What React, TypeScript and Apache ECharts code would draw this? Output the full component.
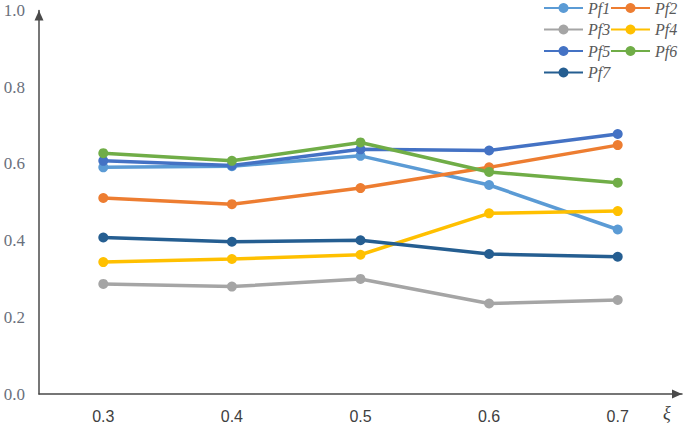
import React, { useEffect, useRef } from "react";
import * as echarts from "echarts";

const categories = ["0.3", "0.4", "0.5", "0.6", "0.7"];
const seriesNames = ["Pf1", "Pf2", "Pf3", "Pf4", "Pf5", "Pf6", "Pf7"];
const pf1 = [0.591, 0.594, 0.621, 0.545, 0.429];
const pf2 = [0.511, 0.495, 0.537, 0.591, 0.649];
const pf3 = [0.287, 0.28, 0.3, 0.236, 0.245];
const pf4 = [0.344, 0.352, 0.363, 0.471, 0.477];
const pf5 = [0.608, 0.596, 0.638, 0.635, 0.678];
const pf6 = [0.628, 0.608, 0.656, 0.579, 0.551];
const pf7 = [0.408, 0.397, 0.401, 0.365, 0.358];
const colors = ["#5B9BD5", "#ED7D31", "#A5A5A5", "#FFC000", "#4472C4", "#70AD47", "#255E91"];

const allData = [pf1, pf2, pf3, pf4, pf5, pf6, pf7];
const SERIF = "'Liberation Serif', 'Times New Roman', serif";

export default function App() {
  const ref = useRef<HTMLDivElement>(null);
  useEffect(() => {
    if (!ref.current) return;
    const chart = echarts.init(ref.current, null, { renderer: "svg" });
    const legendCols = [543, 610];
    const legendRows = [8, 29.5, 51, 72.5];
    const legends = seriesNames.map((name, i) => ({
      data: [name],
      left: legendCols[i % 2],
      top: legendRows[Math.floor(i / 2)] - 8,
      padding: 0,
      itemWidth: 39,
      itemHeight: 12.5,
      itemGap: 0,
      textStyle: {
        fontFamily: SERIF,
        fontStyle: "italic",
        fontSize: 16,
        color: "#595959",
      },
    }));
    chart.setOption({
      animation: false,
      backgroundColor: "#ffffff",
      color: colors,
      legend: legends,
      grid: { left: 39, right: 3, top: 10.5, bottom: 32, containLabel: false },
      xAxis: {
        type: "category",
        data: categories,
        boundaryGap: true,
        axisLine: {
          lineStyle: { color: "#4a4a4a", width: 1.5 },
          symbol: ["none", "triangle"],
          symbolSize: [9, 10],
          symbolOffset: [0, -5],
        },
        axisTick: { show: false },
        axisLabel: {
          margin: 14,
          fontFamily: "'Liberation Sans', Arial, sans-serif",
          fontSize: 16,
          color: "#404040",
        },
        splitLine: { show: false },
      },
      yAxis: {
        type: "value",
        min: 0,
        max: 1,
        interval: 0.2,
        axisLine: {
          show: true,
          lineStyle: { color: "#4a4a4a", width: 1.5 },
          symbol: ["none", "triangle"],
          symbolSize: [9, 10],
          symbolOffset: [0, -5],
        },
        axisTick: { show: false },
        splitLine: { show: false },
        axisLabel: {
          margin: 14,
          fontFamily: SERIF,
          fontSize: 17,
          color: "#6a707c",
          formatter: (v: number) => v.toFixed(1),
        },
      },
      graphic: [
        {
          type: "text",
          left: 663,
          top: 404,
          style: {
            text: "ξ",
            fontFamily: SERIF,
            fontStyle: "italic",
            fontSize: 18,
            fill: "#404040",
          },
        },
      ],
      series: seriesNames.map((name, i) => ({
        name,
        type: "line",
        data: allData[i],
        symbol: "circle",
        symbolSize: 10,
        lineStyle: { width: 3.5, color: colors[i] },
        itemStyle: { color: colors[i] },
      })),
    });
    return () => chart.dispose();
  }, []);
  return (
    <div
      ref={ref}
      style={{ position: "fixed", left: 0, top: 0, width: 685, height: 426, background: "#fff" }}
    />
  );
}
